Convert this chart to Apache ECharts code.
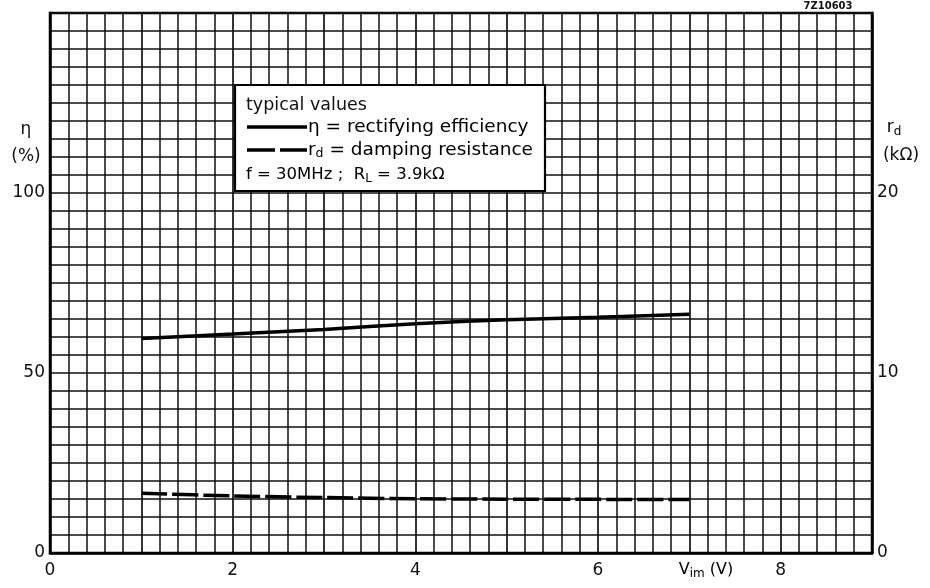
<!DOCTYPE html>
<html><head><meta charset="utf-8">
<script src="https://cdn.jsdelivr.net/npm/echarts/dist/echarts.min.js"></script>
<style>html,body{margin:0;padding:0;background:#fff}#c{width:930px;height:588px}</style>
</head><body><div id="c"></div>
<script>
// ---- data ----
const vimValues = [1, 2, 3, 4, 5, 6, 7];                       // V_im (V)
const etaValues = [59.6, 60.8, 62.1, 63.7, 64.8, 65.5, 66.3];  // η (%)
const rdValues  = [3.32, 3.17, 3.08, 3.01, 2.99, 2.98, 2.97];  // r_d (kΩ)
const xTickLabels = [0, 2, 4, 6, 8];
const leftTickLabels = [0, 50, 100];
const rightTickLabels = [0, 10, 20];

const F = 'DejaVu Sans';
const INK = '#111';
const chart = echarts.init(document.getElementById('c'));

const etaData = vimValues.map((v, i) => [v, etaValues[i]]);
const rdData = vimValues.map((v, i) => [v, rdValues[i]]);

function mainStyle(size) { return {fontSize: size, fontFamily: F, color: INK, verticalAlign: 'middle', lineHeight: 24}; }
function subStyle(size) { return {fontSize: size, fontFamily: F, color: INK, verticalAlign: 'middle', lineHeight: 24, padding: [8, 0, 0, 0]}; }

chart.setOption({
  animation: false,
  backgroundColor: '#fff',
  grid: {left: 50, right: 58, top: 13, bottom: 35, show: true, borderColor: '#000', borderWidth: 2.5, backgroundColor: 'transparent'},
  xAxis: {
    type: 'value', min: 0, max: 9, interval: 1,
    axisLine: {show: true, lineStyle: {color: '#000', width: 2.5}},
    axisTick: {show: false},
    axisLabel: {margin: 9, fontFamily: F, fontSize: 17, color: INK,
      formatter: v => xTickLabels.includes(v) ? String(v) : ''},
    splitLine: {show: true, lineStyle: {color: INK, width: 1.7}},
    minorTick: {show: false, splitNumber: 5},
    minorSplitLine: {show: true, lineStyle: {color: INK, width: 1.5}}
  },
  yAxis: [{
    type: 'value', min: 0, max: 150, interval: 25, position: 'left',
    axisLine: {show: true, lineStyle: {color: '#000', width: 2.5}},
    axisTick: {show: false},
    axisLabel: {margin: 5, fontFamily: F, fontSize: 17, color: INK,
      formatter: v => leftTickLabels.includes(v) ? String(v) : ''},
    splitLine: {show: true, lineStyle: {color: INK, width: 1.7}},
    minorTick: {show: false, splitNumber: 5},
    minorSplitLine: {show: true, lineStyle: {color: INK, width: 1.5}}
  }, {
    type: 'value', min: 0, max: 30, interval: 5, position: 'right',
    axisLine: {show: true, lineStyle: {color: '#000', width: 2.5}},
    axisTick: {show: false},
    axisLabel: {margin: 5, fontFamily: F, fontSize: 17, color: INK,
      formatter: v => rightTickLabels.includes(v) ? String(v) : ''},
    splitLine: {show: false}
  }],
  series: [{
    name: 'eta', type: 'line', yAxisIndex: 0, data: etaData, smooth: 0.3,
    showSymbol: false, lineStyle: {color: '#000', width: 3.5}, z: 5
  }, {
    name: 'rd', type: 'line', yAxisIndex: 1, data: rdData, smooth: 0.3,
    showSymbol: false, lineStyle: {color: '#000', width: 3.5, type: [26, 5]}, z: 5
  }],
  graphic: [
    {type: 'rect', shape: {x: 235, y: 85, width: 310, height: 106}, style: {fill: '#fff', stroke: '#000', lineWidth: 2.2}, z: 50},
    {type: 'text', x: 246, y: 105, style: {text: 'typical values', font: '17.5px "DejaVu Sans"', fill: INK, verticalAlign: 'middle'}, z: 51},
    {type: 'line', shape: {x1: 247, y1: 127, x2: 307, y2: 127}, style: {stroke: '#000', lineWidth: 3.5}, z: 51},
    {type: 'text', x: 308, y: 127, style: {text: '{m|η = rectifying efficiency}', rich: {m: mainStyle(18.5)}, verticalAlign: 'middle'}, z: 51},
    {type: 'line', shape: {x1: 247, y1: 150, x2: 275, y2: 150}, style: {stroke: '#000', lineWidth: 3.5}, z: 51},
    {type: 'line', shape: {x1: 280, y1: 150, x2: 307, y2: 150}, style: {stroke: '#000', lineWidth: 3.5}, z: 51},
    {type: 'text', x: 308, y: 150, style: {text: '{m|r}{s|d}{m| = damping resistance}', rich: {m: mainStyle(18.5), s: subStyle(12.5)}, verticalAlign: 'middle'}, z: 51},
    {type: 'text', x: 246, y: 175, style: {text: '{m|f = 30MHz ;  R}{s|L}{m| = 3.9kΩ}', rich: {m: mainStyle(16.5), s: subStyle(12)}, verticalAlign: 'middle'}, z: 51},
    // axis names
    {type: 'text', x: 26, y: 130, style: {text: 'η', font: '17px "DejaVu Sans"', fill: INK, align: 'center', verticalAlign: 'middle'}},
    {type: 'text', x: 26, y: 157, style: {text: '(%)', font: '17px "DejaVu Sans"', fill: INK, align: 'center', verticalAlign: 'middle'}},
    {type: 'text', x: 894, y: 128, style: {text: '{m|r}{s|d}', rich: {m: mainStyle(17), s: subStyle(12)}, align: 'center', verticalAlign: 'middle'}},
    {type: 'text', x: 901, y: 156, style: {text: '(kΩ)', font: '17px "DejaVu Sans"', fill: INK, align: 'center', verticalAlign: 'middle'}},
    {type: 'text', x: 706, y: 570, style: {text: '{m|V}{s|im}{m| (V)}', rich: {m: mainStyle(16), s: subStyle(12)}, align: 'center', verticalAlign: 'middle'}},
    {type: 'text', x: 828, y: 6, style: {text: '7Z10603', font: 'bold 10px "DejaVu Sans"', fill: INK, align: 'center', verticalAlign: 'middle'}}
  ]
});
</script>
</body></html>
